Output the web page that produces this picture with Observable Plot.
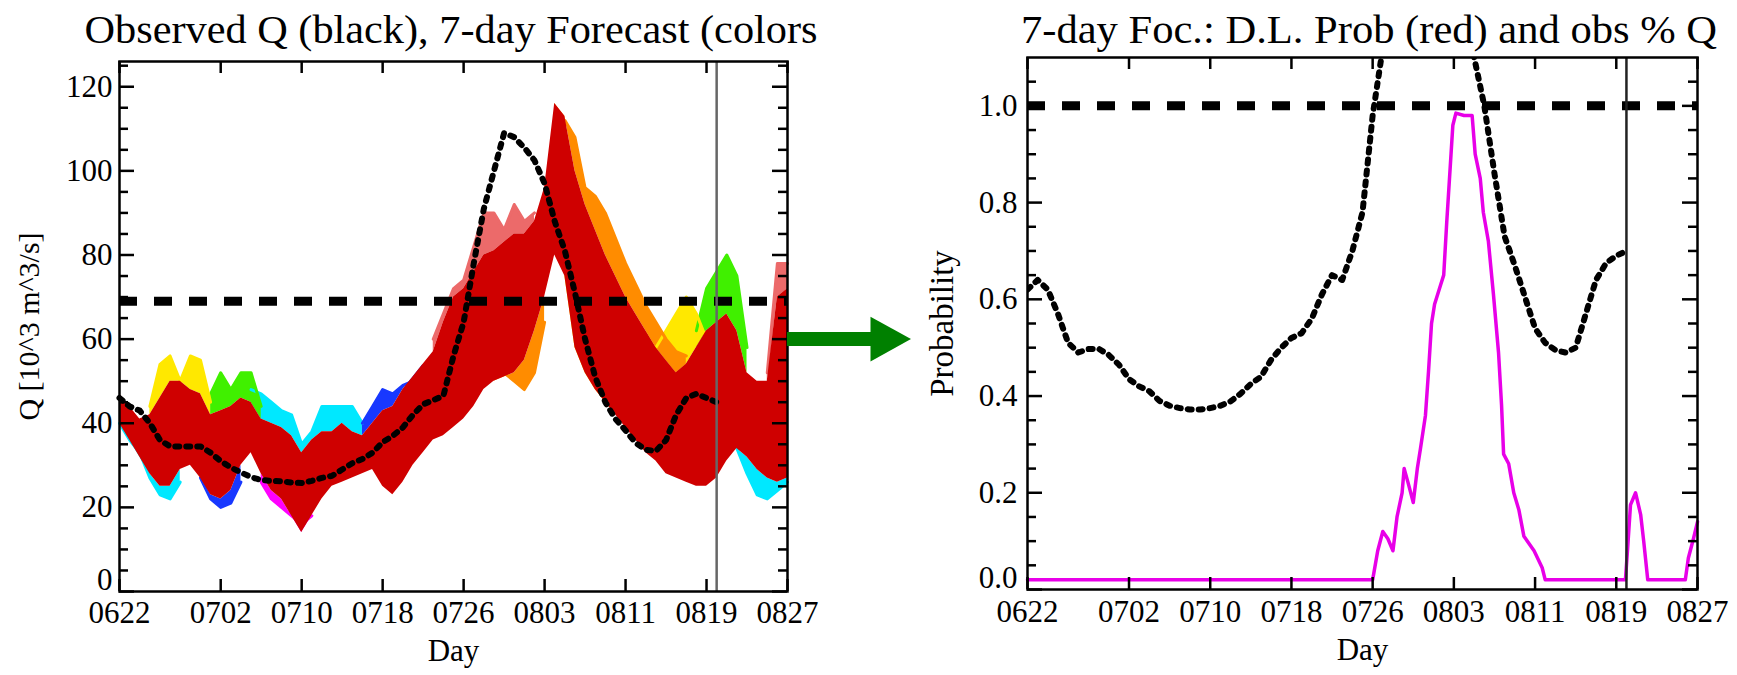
<!DOCTYPE html>
<html><head><meta charset="utf-8">
<script src="https://cdn.jsdelivr.net/npm/d3@7"></script>
<script src="https://cdn.jsdelivr.net/npm/@observablehq/plot@0.6"></script>
<style>
body{margin:0;background:#fff;}
#wrap{position:relative;width:1737px;height:675px;overflow:hidden;background:#fff;}
#left,#right{position:absolute;top:0;}
#left{left:0;width:915px;}
#right{left:915px;width:822px;}
svg{overflow:visible}
</style></head><body>
<div id="wrap"><div id="left"></div><div id="right"></div></div>
<script>
// ---------- shared axis data ----------
const dayTicks = [0,10,18,26,34,42,50,58,66];
const dayTickLabels = ["0622","0702","0710","0718","0726","0803","0811","0819","0827"];
const forecastDay = 59;
const leftTitle = "Observed Q (black), 7-day Forecast (colors";
const rightTitle = "7-day Foc.: D.L. Prob (red) and obs % Q";
const leftYLabel = "Q [10^3 m^3/s]";
const rightYLabel = "Probability";
const xLabel = "Day";

// ---------- left panel data ----------
const qThreshold = 69;
const qMajor = [0,20,40,60,80,100,120];
const qMinor = [5,10,15,25,30,35,45,50,55,65,70,75,85,90,95,105,110,115,125];
// observed discharge, days 0..59 from 06/22
const obsQ = [46,44,43,40,36,34.5,34.5,34.5,34.5,33, 31,29.5,28.3,27.2,26.5,26.3,26.2,25.9,25.8,26.3,
  27,27.5,29,30.5,31.5,33,35.5,37,39,42, 44.5,45.5,46.5,56,64,78,91,100,109,108,
  105.5,102.5,97,88,81,71,60,51,45,41, 38.3,35.3,33.7,33.4,36,42,46,47,46,45];
// forecast ensemble core (red) envelope, days 0..66
const coreHi = [47,44,41,42,46,50,50,48,47,42, 43,44,46,45,41,40,39,37,33,36,
  38,38,40,38,37,40,43,44,48,51, 54,57,64,70,72,76,80,81,83,85,
  85,88,96,116,113,100,92,86,80,75, 70,66,62,58,55,52,54,58,62,64, 66,62,52,50,50,70,72];
const coreLo = [40,36,32,28,25,25,29,30,27,23, 22,24,30,33,28,24,22,18,14,18,
  22,25,26,27,28,29,25,23,26,30, 33,36,37,39,41,44,48,50,51,52,
  55,62,70,80,75,58,52,48,45,42, 39,36,33,31,28,27,26,25,25,27, 31,34,32,29,27,26,27];
// individual ensemble members where they stick out of the core: [day, Q]
const cyanEarlyLow = [[0,40],[1,36],[2,33],[3,27],[4,23],[5,22],[6,26]];
const cyanUpper = [[13,48],[14,47],[15,45],[16,43],[17,42],[18,35],[19,38],[20,44],[21,44],[22,44],[23,44],[24,40]];
const cyanLateLow = [[61,34],[62,28],[63,23],[64,22],[65,24],[66,26]];
const blueLow = [[8,27],[9,22],[10,20],[11,21],[12,26]];
const blueUpper = [[24,40],[25,44],[26,48],[27,47],[28,49],[29,50],[30,52]];
const magentaLow = [[14,26],[15,22],[16,20],[17,18],[18,16],[19,18]];
const greenEarly = [[9,47],[10,52],[11,48],[12,52],[13,52],[14,44]];
const greenLate = [[57,62],[58,72],[59,76],[60,80],[61,75],[62,58]];
const yellowEarly = [[3,44],[4,54],[5,56],[6,50],[7,56],[8,55],[9,45]];
const yellowFall = [[44,84],[45,72],[46,60],[47,52],[48,47],[49,43]];
const yellowLate = [[52,52],[53,58],[54,62],[55,66],[56,70],[57,66],[58,60]];
const orangeRise = [[37,54],[38,52],[39,50],[40,48],[41,52],[42,64]];
const orangeFall = [[43,100],[44,112],[45,108],[46,96],[47,94],[48,90],[49,84],[50,78],[51,73],[52,68],[53,64],[54,60],[55,57],[56,56]];
const pinkRise = [[31,60],[32,66],[33,72],[34,74],[35,82],[36,90],[37,90],[38,86],[39,92],[40,88],[41,90]];
const pinkEnd = [[64,52],[65,78],[66,78]];
const memberNames = ["member C","member B","member M","member G","member Y","member O","member P"];
const members = [
  ["member C", cyanEarlyLow],["member C", cyanUpper],["member C", cyanLateLow],
  ["member B", blueLow],["member B", blueUpper],["member M", magentaLow],
  ["member G", greenEarly],["member G", greenLate],
  ["member Y", yellowEarly],["member Y", yellowFall],["member Y", yellowLate],
  ["member O", orangeRise],["member O", orangeFall],["member P", pinkRise],["member P", pinkEnd]
];
// green arrow annotation (in day / Q units of the left panel)
const arrowQ = 60, arrowFrom = 66, arrowBase = 74.2, arrowTip = 78.2, arrowHalf = 5.3;

// ---------- right panel data ----------
const probThreshold = 1.0;
const pMajor = [0,0.2,0.4,0.6,0.8,1.0];
const pMinor = [0.05,0.1,0.15,0.25,0.3,0.35,0.45,0.5,0.55,0.65,0.7,0.75,0.85,0.9,0.95,1.05];
// observed Q as fraction of threshold, days 0..59
const obsPct = [0.62,0.64,0.62,0.57,0.51,0.49,0.497,0.498,0.485,0.465,
  0.435,0.42,0.41,0.39,0.38,0.375,0.372,0.372,0.375,0.38,
  0.389,0.405,0.425,0.44,0.475,0.50,0.52,0.53,0.56,0.61,
  0.65,0.64,0.70,0.78,0.98,1.12,1.33,1.45,1.58,1.57,
  1.53,1.48,1.40,1.25,1.10,1.00,0.86,0.73,0.67,0.605,
  0.54,0.51,0.495,0.49,0.50,0.57,0.64,0.675,0.69,0.70];
// dam-limit exceedance probability
const probDays = [0,34,34.5,35,35.5,36,36.4,36.9,37.1,37.5,38,38.4,38.7,39.2,39.5,39.8,40.1,40.7,41,41.3,41.6,41.9,42.2,43,43.8,44.1,44.6,44.9,45.4,45.9,46.4,46.7,46.9,47.4,47.9,48.4,48.9,49.9,50.7,51,58.9,59.1,59.4,59.9,60.4,60.7,61.1,64.8,65.1,65.6,66];
const probVals = [0.02,0.02,0.08,0.12,0.105,0.08,0.15,0.2,0.25,0.22,0.18,0.25,0.29,0.36,0.45,0.55,0.59,0.63,0.65,0.76,0.86,0.96,0.985,0.98,0.98,0.9,0.85,0.78,0.72,0.61,0.49,0.38,0.28,0.26,0.2,0.165,0.11,0.08,0.045,0.02,0.02,0.08,0.175,0.2,0.155,0.1,0.02,0.02,0.065,0.105,0.14];

// ---------- helpers ----------
const FONT = "'Liberation Serif','Times New Roman',serif";
function tickMarks(major, minor, pw, ph) {
  const sw = 2.5;
  return [
    Plot.tickY(major, {y: d => d, insetRight: pw - 15, strokeWidth: sw}),
    Plot.tickY(major, {y: d => d, insetLeft: pw - 15, strokeWidth: sw}),
    Plot.tickY(minor, {y: d => d, insetRight: pw - 9, strokeWidth: sw}),
    Plot.tickY(minor, {y: d => d, insetLeft: pw - 9, strokeWidth: sw}),
    Plot.tickX(dayTicks, {x: d => d, insetTop: ph - 12, strokeWidth: sw}),
    Plot.tickX(dayTicks, {x: d => d, insetBottom: ph - 12, strokeWidth: sw})
  ];
}
function labelMarks(major, fmt, dxLab, yLab, dxY, dyX, yLabSize) {
  return [
    Plot.text(major.filter(v => v > 0), {y: d => d, frameAnchor: "left", dx: dxLab, textAnchor: "end", text: fmt}),
    Plot.text(major.filter(v => v === 0), {y: d => d, frameAnchor: "left", dx: dxLab, dy: -11, textAnchor: "end", text: fmt}),
    Plot.text(dayTicks, {x: d => d, frameAnchor: "bottom", dy: dyX, text: (d, i) => dayTickLabels[i]}),
    Plot.text([xLabel], {frameAnchor: "bottom", dy: dyX + 38, text: d => d}),
    Plot.text([yLab], {frameAnchor: "left", dx: dxY, rotate: -90, textAnchor: "middle", fontSize: yLabSize, text: d => d})
  ];
}
function addTitle(svg, text, cx, len) {
  d3.select(svg).append("text")
    .attr("x", cx).attr("y", 43)
    .attr("text-anchor", "middle")
    .attr("font-family", FONT).attr("font-size", 40)
    .attr("textLength", len).attr("lengthAdjust", "spacingAndGlyphs")
    .attr("fill", "black")
    .text(text);
}

// ---------- left panel ----------
const L = {w: 915, h: 675, mt: 61, mb: 84, ml: 119, mr: 128};
const lpw = L.w - L.ml - L.mr, lph = L.h - L.mt - L.mb;
const memberRows = members.flatMap(([name, pts], k) => pts.map(([d, v]) => {
  const upper = v > (coreHi[d] + coreLo[d]) / 2;
  return {seg: k, name, day: d, q: v, edge: upper ? coreHi[d] : coreLo[d]};
}));
const coreRows = coreHi.map((h, i) => ({day: i, lo: coreLo[i], hi: h}));
const obsRows = obsQ.map((v, i) => ({day: i, q: v}));

const left = Plot.plot({
  width: L.w, height: L.h,
  marginTop: L.mt, marginBottom: L.mb, marginLeft: L.ml, marginRight: L.mr,
  x: {domain: [0, 66], axis: null},
  y: {domain: [0, 126], axis: null},
  color: {type: "ordinal", domain: memberNames, range: ["#00e8ff","#1838ff","#ff00ff","#40f000","#ffe800","#ff8c00","#ec6a6a"]},
  style: {fontFamily: FONT, fontSize: "31px", background: "transparent", overflow: "visible"},
  marks: [
    Plot.areaY(memberRows, {x: "day", y1: "edge", y2: "q", z: "seg", fill: "name"}),
    Plot.line(memberRows, {x: "day", y: "q", z: "seg", stroke: "name", strokeWidth: 3}),
    Plot.areaY(coreRows, {x: "day", y1: "lo", y2: "hi", fill: "#cf0000"}),
    Plot.line(obsRows, {x: "day", y: "q", stroke: "black", strokeWidth: 6, strokeDasharray: "4,7"}),
    Plot.ruleY([qThreshold], {stroke: "black", strokeWidth: 9, strokeDasharray: "18,17"}),
    Plot.ruleX([forecastDay], {stroke: "#666", strokeWidth: 2.5}),
    Plot.frame({stroke: "black", strokeWidth: 2.5}),
    ...tickMarks(qMajor, qMinor, lpw, lph),
    ...labelMarks(qMajor, d => String(d), -7, leftYLabel, 29 - L.ml, 31, 30),
    Plot.ruleY([{q: arrowQ, a: arrowFrom, b: arrowBase + 0.3}], {y: "q", x1: "a", x2: "b", stroke: "#008000", strokeWidth: 14}),
    Plot.line([[arrowBase, arrowQ + arrowHalf], [arrowTip, arrowQ], [arrowBase, arrowQ - arrowHalf]],
      {x: d => d[0], y: d => d[1], fill: "#008000", stroke: "none"})
  ]
});
addTitle(left, leftTitle, 451, 733);
document.getElementById("left").appendChild(left);

// ---------- right panel ----------
const R = {w: 822, h: 675, mt: 57, mb: 86, ml: 112, mr: 40};
const rpw = R.w - R.ml - R.mr, rph = R.h - R.mt - R.mb;
const probRows = probDays.map((d, i) => ({day: d, p: probVals[i]}));
const pctRows = obsPct.map((v, i) => ({day: i, p: v}));

const right = Plot.plot({
  width: R.w, height: R.h,
  marginTop: R.mt, marginBottom: R.mb, marginLeft: R.ml, marginRight: R.mr,
  x: {domain: [0, 66], axis: null},
  y: {domain: [0, 1.1], axis: null},
  style: {fontFamily: FONT, fontSize: "31px", background: "transparent", overflow: "visible"},
  marks: [
    Plot.line(probRows, {x: "day", y: "p", stroke: "#e800e8", strokeWidth: 3.5}),
    Plot.line(pctRows, {x: "day", y: "p", stroke: "black", strokeWidth: 6, strokeDasharray: "4,7", clip: true}),
    Plot.ruleY([probThreshold], {stroke: "black", strokeWidth: 9, strokeDasharray: "18,17"}),
    Plot.ruleX([forecastDay], {stroke: "#222", strokeWidth: 2.5}),
    Plot.frame({stroke: "black", strokeWidth: 2.5}),
    ...tickMarks(pMajor, pMinor, rpw, rph),
    ...labelMarks(pMajor, d => d.toFixed(1), -10, rightYLabel, 27 - R.ml, 32, 33)
  ]
});
addTitle(right, rightTitle, 454, 696);
document.getElementById("right").appendChild(right);
</script>
</body></html>
